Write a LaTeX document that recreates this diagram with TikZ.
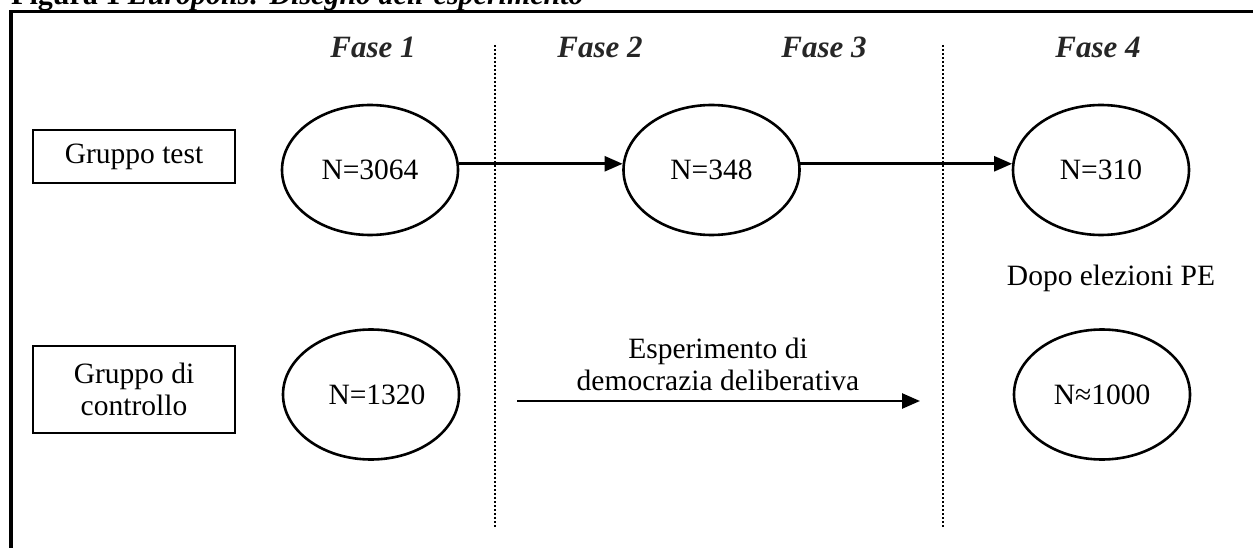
\documentclass[tikz,border=0pt]{standalone}
\usepackage{fontspec}
\setmainfont{Liberation Serif}
\usetikzlibrary{arrows.meta,shapes.geometric}
\begin{document}
\begin{tikzpicture}[x=1pt,y=-1pt,
  every node/.style={font=\fontsize{29.5}{32}\selectfont, inner sep=0pt},
  grp/.style={draw, line width=2.8pt, minimum width=202pt, align=center},
  pop/.style={draw, ellipse, line width=2.6pt, minimum width=176pt, minimum height=130pt},
  fase/.style={font=\fontsize{31}{35}\selectfont\bfseries\itshape, text=black!85, anchor=base},
  sep/.style={line width=2pt, dash pattern=on 2pt off 2pt},
  flow/.style={line width=2.6pt, -{Triangle[length=18pt,width=15pt]}},
  note/.style={align=center},
]
\useasboundingbox (0,0) rectangle (1253,548);
\begin{scope}
  \clip (0,0) rectangle (1253,548);
  \draw[line width=3.2pt] (11,11.5) rectangle (1300,600);
  \node[anchor=base west, font=\fontsize{30}{34}\selectfont\bfseries] (title) at (11,5)
    {Figura 1 \textit{Europolis: Disegno dell'esperimento}};
\end{scope}

% phase labels
\node[fase] (f1) at (373,58) {Fase 1};
\node[fase] (f2) at (600,58) {Fase 2};
\node[fase] (f3) at (824,58) {Fase 3};
\node[fase] (f4) at (1098,58) {Fase 4};

% separators
\coordinate (s1t) at (494.5,45);
\coordinate (s1b) at (494.5,528);
\coordinate (s2t) at (943,45);
\coordinate (s2b) at (943,528);
\draw[sep] (s1t) -- (s1b);
\draw[sep] (s2t) -- (s2b);

% group boxes
\node[grp, minimum height=53pt] (gt) at (134,156.5) {Gruppo test};
\node[grp, minimum height=87pt] (gc) at (134,389.5) {Gruppo di\\controllo};

% populations
\node[pop] (p1) at (370,170) {N=3064};
\node[pop] (p2) at (711.5,170) {N=348};
\node[pop] (p3) at (1101,170) {N=310};
\node[pop] (p4) at (371,394.5) {\hspace*{12pt}N=1320};
\node[pop] (p5) at (1102,394.5) {N≈1000};

\draw[flow] (p1.4) -- (p2.176);
\draw[flow] (p2.4) -- (p3.176);

\node[anchor=base] (dopo) at (1111,285) {Dopo elezioni PE};

\coordinate (e1) at (517,401);
\coordinate (e2) at (920,401);
\draw[flow] (e1) -- (e2);
\node[note, anchor=south] (esp) at (718,391) {Esperimento di\\democrazia deliberativa};
\end{tikzpicture}
\end{document}
